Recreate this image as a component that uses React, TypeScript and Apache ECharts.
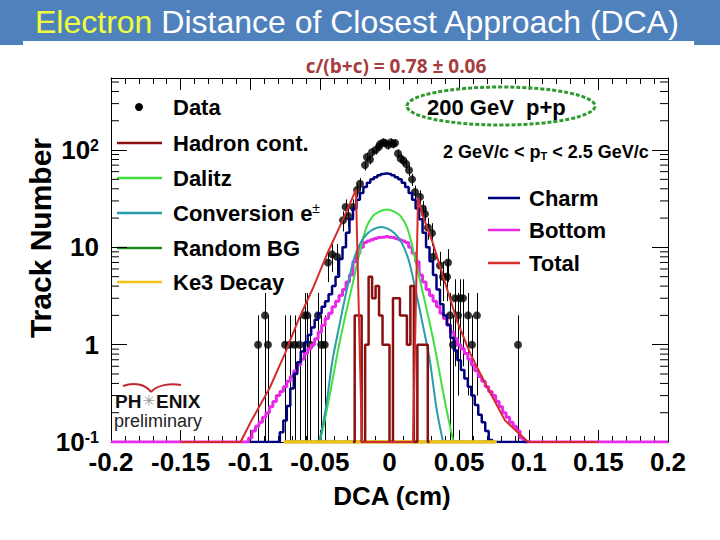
import React, { useEffect, useRef } from "react";
import * as echarts from "echarts";

// ---------- data ----------
const FLOOR = 0.1; // empty bins are drawn on the lower edge of the log axis
const BIN = 0.0025;

const X_MIN = -0.2;
const X_MAX = 0.2;
const Y_MIN = 0.1;
const Y_MAX = 550;

// Data points: [DCA, count, lower error end, upper error end]
const dataPoints: [number, number, number, number][] = [
  [-0.0944, 1, 0.1, 2], [-0.0894, 2, 0.1, 3.4], [-0.0873, 1, 0.1, 2],
  [-0.075, 1, 0.1, 2], [-0.0715, 1, 0.1, 2], [-0.068, 1, 0.1, 2], [-0.0645, 1, 0.1, 2],
  [-0.061, 2, 0.1, 3.4], [-0.059, 2, 0.1, 3.4], [-0.057, 1, 0.1, 2],
  [-0.0514, 2, 0.1, 3.4], [-0.049, 1, 0.1, 2], [-0.0465, 1, 0.1, 2],
  [-0.0442, 7, 4.4, 9.6], [-0.0413, 8.5, 5.6, 11.4], [-0.0377, 8, 5.2, 10.8],
  [-0.0334, 19, 14.6, 23.4], [-0.0315, 26, 20.9, 31.1], [-0.0298, 21, 16.4, 25.6],
  [-0.0262, 26, 20.9, 31.1], [-0.0233, 39, 32.8, 45.2], [-0.0212, 45, 38.3, 51.7],
  [-0.0176, 70, 61.6, 78.4], [-0.0162, 85, 75.8, 94.2], [-0.014, 80, 71.1, 88.9],
  [-0.0126, 95, 85.3, 104.7], [-0.01, 100, 90, 110], [-0.0076, 108, 97.6, 118.4],
  [-0.0068, 115, 104.3, 125.7], [-0.0045, 120, 109, 131], [-0.0032, 118, 107.1, 128.9],
  [-0.0011, 112, 101.4, 122.6], [0.001, 120, 109, 131], [0.0025, 115, 104.3, 125.7],
  [0.004, 118, 107.1, 128.9], [0.0061, 92, 82.4, 101.6], [0.008, 82, 72.9, 91.1],
  [0.01, 78, 69.2, 86.8], [0.012, 72, 63.5, 80.5], [0.014, 62, 54.1, 69.9],
  [0.0162, 50, 42.9, 57.1], [0.0183, 37, 30.9, 43.1], [0.0219, 33, 27.3, 38.7],
  [0.024, 25, 20, 30], [0.0255, 22, 17.3, 26.7], [0.0276, 16, 12, 20],
  [0.0305, 14, 10.3, 17.7], [0.0315, 8, 5.2, 10.8], [0.0363, 6.5, 4, 9],
  [0.0384, 5, 2.8, 7.2], [0.0413, 5, 2.8, 7.2], [0.042, 7, 4.4, 9.6],
  [0.0434, 2, 0.1, 3.4], [0.0456, 1, 0.1, 2], [0.047, 3, 0.6, 4.7],
  [0.0492, 2, 0.3, 3.4], [0.0506, 3, 0.6, 4.7], [0.0528, 3, 0.6, 4.7],
  [0.0564, 2, 0.3, 3.4], [0.0592, 1, 0.1, 2], [0.0628, 2, 0.3, 3.4],
  [0.0923, 1, 0.1, 2],
];

// Charm histogram (bin centres from charmStart, width BIN)
const charmStart = -0.08;
const charmCounts = [
  0.1, 0.126, 0.166, 0.234, 0.355, 0.5, 0.66, 0.85, 1.05, 1.26, 1.5, 1.8, 2.1, 2.45, 2.8, 3.3,
  4.0, 5.0, 7.6, 10, 14.1, 19.5, 25.1, 30.9, 36.3, 41.7, 46.2, 50.1, 52.5, 55, 56.9,
  57.5,
  56.9, 55, 52.5, 50.1, 46.2, 41.7, 36.3, 30.9, 25.1, 19.5, 14.1, 10, 7.2, 5.2, 3.7, 2.6,
  2.0, 1.6, 1.17, 0.87, 0.69, 0.55, 0.45, 0.37, 0.3, 0.24, 0.19, 0.16, 0.13, 0.105, 0.1,
];

// Bottom histogram
const bottomStart = -0.1025;
const bottomCounts = [
  0.1, 0.11, 0.13, 0.145, 0.16, 0.18, 0.2, 0.23, 0.26, 0.3, 0.33, 0.37, 0.42, 0.47, 0.54, 0.62,
  0.71, 0.81, 0.91, 1.0, 1.15, 1.35, 1.58, 1.86, 2.1, 2.45, 2.8, 3.2, 3.7, 4.4, 5.2, 7.1, 8.7,
  10, 11.2, 11.6, 12.0, 12.3, 12.6, 12.7,
  12.9,
  12.7, 12.6, 12.3, 12.0, 11.6, 11.2, 10, 8.7, 7.1, 5.2, 4.4, 3.7, 3.2, 2.8, 2.45, 2.1, 1.86,
  1.58, 1.35, 1.15, 1.0, 0.91, 0.81, 0.71, 0.62, 0.54, 0.47, 0.42, 0.37, 0.33, 0.3, 0.26, 0.23,
  0.2, 0.18, 0.16, 0.145, 0.13, 0.11, 0.1,
];

// Hadron contamination histogram (0 = empty bin)
const hadronStart = -0.02625;
const hadronCounts = [0, 2, 2, 0, 1, 5, 3, 4, 2, 1, 1, 0, 3, 3, 2, 2, 1, 4, 0, 1, 1, 1, 0];

// Dalitz
const dalitzX = [-0.05, -0.047, -0.042, -0.037, -0.032, -0.027, -0.022, -0.017, -0.012, -0.007, -0.002,
  0.003, 0.008, 0.013, 0.018, 0.023, 0.028, 0.033, 0.038, 0.043, 0.046];
const dalitzY = [0.1, 0.155, 0.355, 0.87, 1.9, 3.9, 8.1, 15.5, 20.9, 23.4, 24.5,
  23.4, 20.9, 15.5, 8.1, 3.9, 1.9, 0.87, 0.355, 0.155, 0.1];

// Conversion e±
const convX = [-0.0505, -0.046, -0.041, -0.036, -0.031, -0.026, -0.021, -0.016, -0.011, -0.006,
  -0.001, 0.004, 0.009, 0.014, 0.019, 0.024, 0.029, 0.034, 0.0385];
const convY = [0.1, 0.21, 0.68, 1.58, 3.5, 7.2, 11.0, 13.8, 15.5, 16.2,
  15.5, 13.8, 11.0, 7.2, 3.5, 1.58, 0.68, 0.21, 0.1];

// Random BG and Ke3 decay (empty over their range)
const randomX = [-0.075, 0.075];
const randomY = [0, 0];
const ke3X = [-0.076, 0.077];
const ke3Y = [0, 0];

// Total
const totalX = [-0.15, -0.107, -0.099, -0.0859, -0.0751, -0.0657, -0.055, -0.0449, -0.0341, -0.0241,
  -0.0198, 0.0169, 0.0205, 0.024, 0.031, 0.04, 0.0485, 0.058, 0.0704, 0.0829, 0.0995, 0.15];
const totalY = [0, 0, 0.167, 0.363, 0.81, 1.76, 3.8, 8.5, 18.4, 38.9,
  0, 0, 32.4, 21, 11.2, 4.3, 1.76, 0.81, 0.36, 0.167, 0, 0];

const yMinorTicks = [0.2, 0.3, 0.4, 0.5, 0.6, 0.7, 0.8, 0.9, 2, 3, 4, 5, 6, 7, 8, 9,
  20, 30, 40, 50, 60, 70, 80, 90, 200, 300, 400, 500];

// ---------- colours ----------
const C = {
  data: "#000000",
  hadron: "#8a0f0f",
  dalitz: "#3fe03f",
  conv: "#2a9caa",
  random: "#1a8a1a",
  ke3: "#f2c21b",
  charm: "#00007f",
  bottom: "#e62ae6",
  total: "#d42c2c",
};

const FONT = "'Liberation Sans', Arial, Helvetica, sans-serif";

const fl = (v: number) => (v > 0 ? v : FLOOR);
const hist = (start: number, counts: number[]) => counts.map((v, i) => [start + i * BIN, fl(v)]);
const pairs = (xs: number[], ys: number[]) => xs.map((x, i) => [x, fl(ys[i])]);

function buildOption(): any {
  const bottomPts = [[X_MIN, FLOOR], ...hist(bottomStart, bottomCounts), [X_MAX, FLOOR]];
  const charmPts = [[-0.1, FLOOR], ...hist(charmStart, charmCounts), [0.1, FLOOR]];
  const hadronPts = hist(hadronStart, hadronCounts);

  const lineBase = { type: "line", symbol: "none", silent: true, clip: true };

  const leftLegend = [
    { name: "Hadron cont.", color: C.hadron, y: 143 },
    { name: "Dalitz", color: C.dalitz, y: 178 },
    { name: "Conversion e", color: C.conv, y: 213, sup: "±" },
    { name: "Random BG", color: C.random, y: 248 },
    { name: "Ke3 Decay", color: C.ke3, y: 282 },
  ];
  const rightLegend = [
    { name: "Charm", color: C.charm, y: 198 },
    { name: "Bottom", color: C.bottom, y: 230 },
    { name: "Total", color: C.total, y: 263 },
  ];

  const legendEls: any[] = [];
  legendEls.push({ type: "circle", shape: { cx: 139, cy: 107, r: 4 }, style: { fill: "#000" } });
  legendEls.push({
    type: "text", x: 173, y: 107,
    style: { text: "Data", font: `bold 22px ${FONT}`, fill: "#000", verticalAlign: "middle" },
  });
  leftLegend.forEach((l) => {
    legendEls.push({
      type: "line", shape: { x1: 117, y1: l.y, x2: 162, y2: l.y },
      style: { stroke: l.color, lineWidth: 2.5 },
    });
    legendEls.push({
      type: "text", x: 173, y: l.y,
      style: {
        text: l.sup ? `{a|${l.name}}{s|${l.sup}}` : l.name,
        font: `bold 22px ${FONT}`, fill: "#000", verticalAlign: "middle",
        rich: l.sup
          ? {
              a: { font: `bold 22px ${FONT}`, fill: "#000" },
              s: { font: `14px ${FONT}`, fill: "#000", verticalAlign: "top", padding: [0, 0, 10, 0] },
            }
          : undefined,
      },
    });
  });
  rightLegend.forEach((l) => {
    legendEls.push({
      type: "line", shape: { x1: 488, y1: l.y, x2: 520, y2: l.y },
      style: { stroke: l.color, lineWidth: 2.5 },
    });
    legendEls.push({
      type: "text", x: 529, y: l.y,
      style: { text: l.name, font: `bold 22px ${FONT}`, fill: "#000", verticalAlign: "middle" },
    });
  });

  const graphic: any[] = [
    { type: "rect", shape: { x: 0, y: 0, width: 720, height: 45 }, style: { fill: "#4f81bd" }, z: -10 },
    { type: "rect", shape: { x: 23, y: 41, width: 671, height: 8 }, style: { fill: "#ffffff" }, z: -9 },
    {
      type: "text", x: 35, y: 22,
      style: {
        text: "{y|Electron }{w|Distance of Closest Approach (DCA)}",
        verticalAlign: "middle",
        rich: {
          y: { font: `32px ${FONT}`, fill: "#f0ff3a" },
          w: { font: `32px ${FONT}`, fill: "#ffffff" },
        },
      },
    },
    {
      type: "text", x: 396, y: 66,
      style: {
        text: "c/(b+c) = 0.78 ± 0.06", font: `bold 19px 'Open Sans', sans-serif`,
        fill: "#a63c3c", align: "center", verticalAlign: "middle",
      },
    },
    {
      type: "ellipse", shape: { cx: 501, cy: 106, rx: 94, ry: 19 },
      style: { fill: "none", stroke: "#2f9a2f", lineWidth: 3, lineDash: [4, 2] }, z: 50,
    },
    {
      type: "text", x: 427, y: 107, z: 50,
      style: { text: "200 GeV  p+p", font: `bold 22px ${FONT}`, fill: "#000", verticalAlign: "middle" },
    },
    {
      type: "text", x: 443, y: 152, z: 50,
      style: {
        text: "{a|2 GeV/c < p}{t|T}{a| < 2.5 GeV/c}",
        verticalAlign: "middle",
        rich: {
          a: { font: `bold 18px ${FONT}`, fill: "#000" },
          t: { font: `bold 11px ${FONT}`, fill: "#000", verticalAlign: "bottom", padding: [8, 0, 0, 0] },
        },
      },
    },
    ...legendEls,
    // PHENIX preliminary logo
    {
      type: "bezierCurve",
      shape: { x1: 123, y1: 386, cpx1: 134, cpy1: 382, cpx2: 145, cpy2: 384, x2: 151, y2: 392 },
      style: { stroke: "#c2272d", lineWidth: 2, fill: "none" },
    },
    {
      type: "bezierCurve",
      shape: { x1: 151, y1: 392, cpx1: 157, cpy1: 385, cpx2: 170, cpy2: 383, x2: 181, y2: 385 },
      style: { stroke: "#c2272d", lineWidth: 2, fill: "none" },
    },
    {
      type: "text", x: 115, y: 401,
      style: {
        text: "{a|PH}{s|✳}{a|ENIX}",
        verticalAlign: "middle",
        lineHeight: 16,
        rich: {
          a: { font: `bold 19px ${FONT}`, fill: "#111", lineHeight: 16 },
          s: { font: `15px 'DejaVu Sans', sans-serif`, fill: "#9a9a9a", padding: [0, 1, 0, 1], lineHeight: 16 },
        },
      },
    },
    {
      type: "text", x: 114, y: 421,
      style: { text: "preliminary", font: `18px ${FONT}`, fill: "#222", verticalAlign: "middle", lineHeight: 17 },
    },
    // axis titles
    {
      type: "text", x: 40, y: 238, rotation: Math.PI / 2,
      style: { text: "Track Number", font: `bold 30px ${FONT}`, fill: "#000", align: "center", verticalAlign: "middle" },
    },
    {
      type: "text", x: 392, y: 496,
      style: { text: "DCA (cm)", font: `bold 26px ${FONT}`, fill: "#000", align: "center", verticalAlign: "middle" },
    },
  ];

  const xAxisBase = {
    type: "value", min: X_MIN, max: X_MAX, interval: 0.05,
    axisLine: { show: true, onZero: false, lineStyle: { color: "#000", width: 1 } },
    axisTick: { show: true, inside: true, length: 12, lineStyle: { color: "#000" } },
    minorTick: { show: true, splitNumber: 5, length: 6, lineStyle: { color: "#000" } },
    splitLine: { show: false },
  };
  const yAxisBase = {
    type: "log", logBase: 10, min: Y_MIN, max: Y_MAX,
    axisLine: { show: true, onZero: false, lineStyle: { color: "#000", width: 1 } },
    axisTick: { show: true, inside: true, length: 16, lineStyle: { color: "#000" } },
    splitLine: { show: false },
  };

  return {
    animation: false,
    backgroundColor: "#ffffff",
    grid: { left: 111, right: 52, top: 78, bottom: 98, containLabel: false },
    xAxis: [
      {
        ...xAxisBase, position: "bottom",
        axisLabel: {
          show: true, margin: 7, color: "#000", fontSize: 26, fontWeight: "bold", fontFamily: FONT,
          formatter: (v: number) => String(Math.round(v * 100) / 100),
        },
      },
      { ...xAxisBase, position: "top", axisLabel: { show: false } },
    ],
    yAxis: [
      {
        ...yAxisBase, position: "left",
        axisLabel: {
          show: true, margin: 12,
          formatter: (v: number) => {
            const l = Math.log10(v);
            const e = Math.round(l);
            if (Math.abs(l - e) > 1e-6) return "";
            if (e === 0) return "{b|1}";
            if (e === 1) return "{b|10}";
            return `{b|10}{s|${e}}`;
          },
          rich: {
            b: { fontSize: 26, fontWeight: "bold", fontFamily: FONT, color: "#000" },
            s: { fontSize: 16, fontWeight: "bold", fontFamily: FONT, color: "#000", verticalAlign: "top", padding: [0, 0, 8, 0] },
          },
        },
      },
      { ...yAxisBase, position: "right", axisLabel: { show: false } },
    ],
    graphic,
    series: [
      { ...lineBase, name: "Bottom", step: "middle", data: bottomPts, lineStyle: { color: C.bottom, width: 3 } },
      { ...lineBase, name: "Charm", step: "middle", data: charmPts, lineStyle: { color: C.charm, width: 2.5 } },
      { ...lineBase, name: "Dalitz", smooth: 0.3, data: pairs(dalitzX, dalitzY), lineStyle: { color: C.dalitz, width: 2 } },
      { ...lineBase, name: "Conversion e±", smooth: 0.3, data: pairs(convX, convY), lineStyle: { color: C.conv, width: 2 } },
      { ...lineBase, name: "Random BG", data: pairs(randomX, randomY), lineStyle: { color: C.random, width: 3 } },
      { ...lineBase, name: "Ke3 Decay", data: pairs(ke3X, ke3Y), lineStyle: { color: C.ke3, width: 3.5 } },
      { ...lineBase, name: "Hadron cont.", step: "middle", data: hadronPts, lineStyle: { color: C.hadron, width: 2.5 } },
      { ...lineBase, name: "Total", data: pairs(totalX, totalY), lineStyle: { color: C.total, width: 2 } },
      {
        type: "custom", name: "Data errors", silent: true,
        data: dataPoints.map((d) => [d[0], d[2], d[3]]),
        encode: { x: 0, y: [1, 2] },
        renderItem: (params: any, api: any) => {
          const x = api.value(0);
          const p1 = api.coord([x, api.value(1)]);
          const p2 = api.coord([x, api.value(2)]);
          const px = Math.round(p1[0]) + 0.5;
          return {
            type: "line",
            shape: { x1: px, y1: p1[1], x2: px, y2: p2[1] },
            style: { stroke: "#000", lineWidth: 1 },
          };
        },
      },
      {
        type: "scatter", name: "Data", silent: true, symbol: "circle", symbolSize: 8,
        data: dataPoints.map((d) => [d[0], d[1]]),
        itemStyle: { color: C.data },
      },
      {
        type: "custom", name: "y minor ticks", silent: true,
        data: yMinorTicks.map((v) => [X_MIN, v]),
        renderItem: (params: any, api: any) => {
          const v = api.value(1);
          const pl = api.coord([X_MIN, v]);
          const pr = api.coord([X_MAX, v]);
          return {
            type: "group",
            children: [
              { type: "line", shape: { x1: pl[0], y1: pl[1], x2: pl[0] + 8, y2: pl[1] }, style: { stroke: "#000", lineWidth: 1 } },
              { type: "line", shape: { x1: pr[0], y1: pr[1], x2: pr[0] - 8, y2: pr[1] }, style: { stroke: "#000", lineWidth: 1 } },
            ],
          };
        },
      },
    ],
  };
}

export default function App() {
  const ref = useRef<HTMLDivElement>(null);
  useEffect(() => {
    if (!ref.current) return;
    const chart = echarts.init(ref.current, null, { renderer: "svg" });
    chart.setOption(buildOption());
    return () => chart.dispose();
  }, []);
  return (
    <div
      ref={ref}
      style={{ position: "fixed", left: 0, top: 0, width: 720, height: 540, background: "#fff" }}
    />
  );
}
